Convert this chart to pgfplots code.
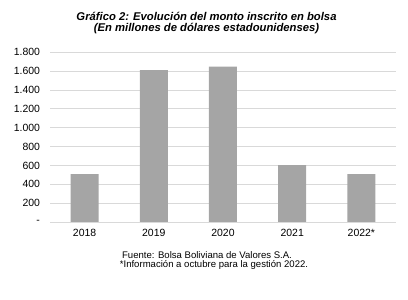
\documentclass[border=0pt]{standalone}
\usepackage{pgfplots}
\pgfplotsset{compat=1.18}
\usepackage{fontspec}
\setmainfont{Liberation Sans}
\definecolor{barc}{HTML}{A5A5A5}
\definecolor{gridc}{HTML}{D9D9D9}
\begin{document}
\begin{tikzpicture}[x=1bp,y=1bp]
\useasboundingbox (0,0) rectangle (408,300);
\begin{axis}[
  at={(50bp,78bp)}, anchor=south west,
  scale only axis, width=346bp, height=169.7bp,
  xmin=-0.5, xmax=4.5, ymin=0, ymax=1800,
  axis line style={draw=none},
  major tick length=0pt,
  ymajorgrids, grid style={draw=gridc, line width=0.8pt},
  ytick={0,200,400,600,800,1000,1200,1400,1600,1800},
  yticklabels={-,200,400,600,800,1.000,1.200,1.400,1.600,1.800},
  xtick=data, xticklabels={2018,2019,2020,2021,2022*},
  tick label style={font=\fontsize{10.5}{12}\selectfont},
  yticklabel style={xshift=-6.5bp},
  xticklabel style={yshift=-4bp},
  ybar, bar width=28bp,
  clip=false,
]
\addplot[fill=barc, draw=none] coordinates {(0,509) (1,1612) (2,1647) (3,604) (4,509)};
\end{axis}
\node[font=\fontsize{11.3}{13}\selectfont\bfseries\itshape] at (206.5,284) {Gráfico 2: Evolución del monto inscrito en bolsa};
\node[font=\fontsize{11.3}{13}\selectfont\bfseries\itshape] at (206.5,271) {(En millones de dólares estadounidenses)};
\node[font=\fontsize{9.6}{11}\selectfont] at (207,44.5) {Fuente: Bolsa Boliviana de Valores S.A.};
\node[font=\fontsize{9.6}{11}\selectfont] at (214,35.5) {*Información a octubre para la gestión 2022.};
\end{tikzpicture}
\end{document}
